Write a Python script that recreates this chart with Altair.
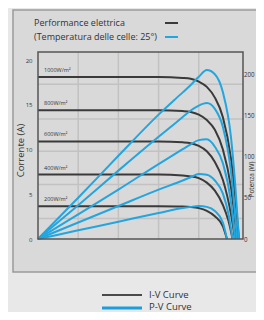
import altair as alt
import pandas as pd

FONT = "Open Sans"
TXT = "#333333"
DARK = "#3a3a3a"
BLUE = "#22a6df"

irradiance = ["1000W/m²", "800W/m²", "600W/m²", "400W/m²", "200W/m²"]

voltage = [
    [0, 5, 10, 15, 18, 19, 20, 21, 22, 23, 24, 24.5, 25],
    [0, 5, 10, 15, 18, 19, 20, 21, 22, 23, 24, 24.75],
    [0, 5, 10, 15, 18, 19, 20, 21, 22, 23, 24, 24.5],
    [0, 5, 10, 15, 18, 19, 20, 21, 22, 23, 23.7, 24.2],
    [0, 5, 10, 15, 18, 19, 20, 21, 22, 23, 23.5],
]
current = [
    [18.1, 18.1, 18.1, 18.1, 18.0, 17.9, 17.6, 17.0, 15.8, 13.6, 9.0, 5.0, 0],
    [14.4, 14.4, 14.4, 14.4, 14.3, 14.2, 13.9, 13.3, 12.2, 10.0, 5.8, 0],
    [10.9, 10.9, 10.9, 10.9, 10.8, 10.7, 10.4, 9.8, 8.6, 6.6, 2.8, 0],
    [7.2, 7.2, 7.2, 7.2, 7.1, 7.0, 6.8, 6.3, 5.4, 3.8, 2.0, 0],
    [3.67, 3.67, 3.67, 3.66, 3.63, 3.58, 3.45, 3.15, 2.55, 1.4, 0],
]
power = [
    [0, 50, 101, 151, 178, 187, 197, 205, 200, 178, 124, 70, 0],
    [0, 41, 83, 124, 148, 156, 162, 165, 158, 136, 82, 0],
    [0, 30, 60, 91, 109, 115, 120, 121, 112, 92, 45, 0],
    [0, 20, 40, 60, 71, 75, 79, 78, 71, 55, 30, 0],
    [0, 10.5, 21, 31.5, 37.5, 39, 40, 39, 34, 20, 0],
]

x_ticks = [0, 5, 10, 15, 20, 25]
i_ticks = [0, 5, 10, 15, 20]
p_ticks = [0, 50, 100, 150, 200]
x_grid = [5, 10, 15, 20]
i_grid = [2.3, 6.1, 9.8, 13.4, 17.3]

legend_top = ["Performance elettrica", "(Temperatura delle celle: 25°)"]
legend_bottom = ["I-V Curve", "P-V Curve"]

X_DOM = [0, 25.5]
I_DOM = [0, 20.9]
P_DOM = [0, 227]

rows = []
for g, vs, cs, ps in zip(irradiance, voltage, current, power):
    for k, (v, c, p) in enumerate(zip(vs, cs, ps)):
        rows.append({"irr": g, "order": k, "V": v, "I": c, "P": p})
df = pd.DataFrame(rows)
labels_df = pd.DataFrame({"irr": irradiance, "I": [c[0] for c in current]})

one = alt.Data(values=[{"a": 1}])

panel = alt.Chart(one).mark_rect(fill="#d9d9d9", stroke="#9a9a9a", strokeWidth=1.5).encode(
    x=alt.value(-25), x2=alt.value(400), y=alt.value(-42), y2=alt.value(220)
)

vgrid = alt.Chart(pd.DataFrame({"V": x_grid})).mark_rule(color="#c2c2c2", strokeWidth=1.5).encode(
    x=alt.X("V:Q", scale=alt.Scale(domain=X_DOM, nice=False), axis=None)
)
hgrid = alt.Chart(pd.DataFrame({"I": i_grid})).mark_rule(color="#c2c2c2", strokeWidth=1.5).encode(
    y=alt.Y("I:Q", scale=alt.Scale(domain=I_DOM, nice=False), axis=None)
)

iv = alt.Chart(df).mark_line(color=DARK, strokeWidth=2, interpolate="monotone").encode(
    x=alt.X("V:Q", scale=alt.Scale(domain=X_DOM, nice=False),
            axis=alt.Axis(values=x_ticks, title="Tensione (V)", domain=False, ticks=False, grid=False,
                          zindex=2,
                          labelFontSize=7, labelPadding=6, labelColor=TXT, labelFont=FONT,
                          titleFont=FONT, titleFontSize=9.5, titleFontWeight="normal", titleColor=TXT,
                          titleX=94, titleY=21, titleBaseline="middle", titleAlign="center")),
    y=alt.Y("I:Q", scale=alt.Scale(domain=I_DOM, nice=False),
            axis=alt.Axis(values=i_ticks, orient="left", title="Corrente (A)", domain=False, ticks=False,
                          grid=False, zindex=2,
                          labelFontSize=6, labelPadding=6, labelColor=TXT, labelFont=FONT,
                          titleFont=FONT, titleFontSize=9.5, titleFontWeight="normal", titleColor=TXT,
                          titleAngle=270, titleX=-18, titleY=98, titleBaseline="middle", titleAlign="center")),
    detail="irr:N",
    order="order:Q",
)

pv = alt.Chart(df).mark_line(color=BLUE, strokeWidth=2, interpolate="monotone").encode(
    x=alt.X("V:Q", scale=alt.Scale(domain=X_DOM, nice=False), axis=None),
    y=alt.Y("P:Q", scale=alt.Scale(domain=P_DOM, nice=False),
            axis=alt.Axis(values=p_ticks, orient="right", title="Potenza (W)", domain=False, ticks=False,
                          grid=False, zindex=2,
                          labelFontSize=6.2, labelPadding=0.5, labelColor=TXT, labelFont=FONT,
                          titleFont=FONT, titleFontSize=6.5, titleFontWeight="normal", titleColor=TXT,
                          titleAngle=270, titleX=8, titleY=127, titleBaseline="middle", titleAlign="center")),
    detail="irr:N",
    order="order:Q",
)

irr_labels = alt.Chart(labels_df).mark_text(
    align="left", baseline="middle", fontSize=5.5, font=FONT, color=TXT, dy=-7
).encode(
    x=alt.value(6),
    y=alt.Y("I:Q", scale=alt.Scale(domain=I_DOM, nice=False), axis=None),
    text="irr:N",
)

border = alt.Chart(one).mark_rect(fill=None, stroke="#555555", strokeWidth=1.5).encode(
    x=alt.value(0), x2=alt.value(205), y=alt.value(0), y2=alt.value(187)
)

top_text1 = alt.Chart(one).mark_text(align="left", baseline="middle", fontSize=9, font=FONT, color=TXT,
                                     text=legend_top[0]).encode(x=alt.value(-4), y=alt.value(-29))
top_text2 = alt.Chart(one).mark_text(align="left", baseline="middle", fontSize=9, font=FONT, color=TXT,
                                     text=legend_top[1]).encode(x=alt.value(-4), y=alt.value(-15))
top_rule1 = alt.Chart(one).mark_rule(color=DARK, strokeWidth=2).encode(
    x=alt.value(127), x2=alt.value(140), y=alt.value(-29))
top_rule2 = alt.Chart(one).mark_rule(color=BLUE, strokeWidth=2).encode(
    x=alt.value(127), x2=alt.value(140), y=alt.value(-15))

bot_rule1 = alt.Chart(one).mark_rule(color="#4a4a4a", strokeWidth=2).encode(
    x=alt.value(64), x2=alt.value(104), y=alt.value(243))
bot_rule2 = alt.Chart(one).mark_rule(color="#1a9fdc", strokeWidth=3).encode(
    x=alt.value(64), x2=alt.value(104), y=alt.value(256))
bot_text1 = alt.Chart(one).mark_text(align="left", baseline="middle", fontSize=9.5, font=FONT, color=TXT,
                                     text=legend_bottom[0]).encode(x=alt.value(111), y=alt.value(243))
bot_text2 = alt.Chart(one).mark_text(align="left", baseline="middle", fontSize=9.5, font=FONT, color=TXT,
                                     text=legend_bottom[1]).encode(x=alt.value(111), y=alt.value(255))

chart = alt.layer(
    panel, vgrid, hgrid, iv, pv, irr_labels, border,
    top_text1, top_text2, top_rule1, top_rule2,
    bot_rule1, bot_rule2, bot_text1, bot_text2,
).resolve_scale(y="independent").properties(
    width=205, height=187,
    padding={"left": 30, "top": 44, "right": 13, "bottom": 73},
    autosize=alt.AutoSizeParams(type="none"),
    background="#e8e8e8",
).configure_view(stroke=None, fill=None)

chart.save("out.html", embed_options={"renderer": "svg", "actions": False})
